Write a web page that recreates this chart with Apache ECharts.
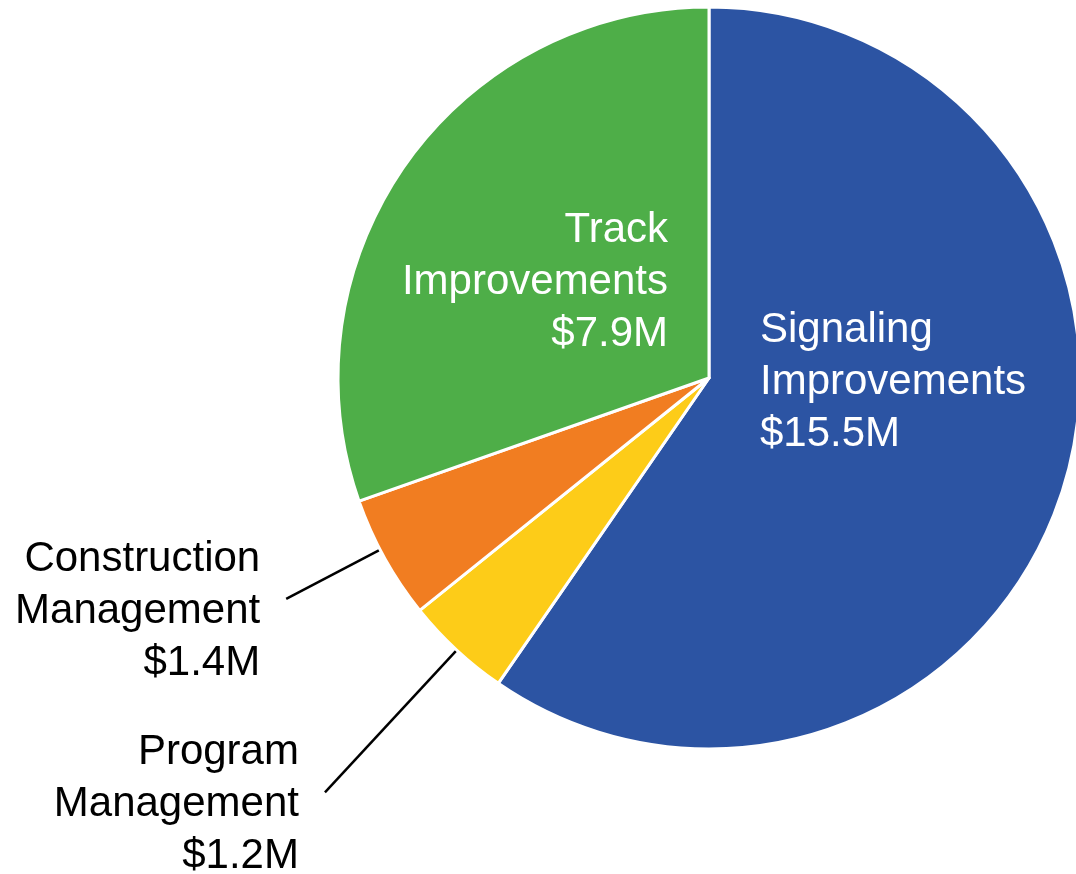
<!DOCTYPE html>
<html>
<head>
<meta charset="utf-8">
<script src="https://cdn.jsdelivr.net/npm/echarts@6/dist/echarts.min.js"></script>
<style>
html,body{margin:0;padding:0;background:#fff;}
#chart{width:1076px;height:874px;}
</style>
</head>
<body>
<div id="chart"></div>
<script>
const categories = ['Signaling\nImprovements', 'Program\nManagement', 'Construction\nManagement', 'Track\nImprovements'];
const values = [15.5, 1.2, 1.4, 7.9];
const colors = ['#2C54A3', '#FDCC18', '#F17D21', '#4EAE48'];
const insideLabel = [true, false, false, true];

const CX = 709, CY = 378, R = 371;
const chart = echarts.init(document.getElementById('chart'));

const data = categories.map((c, i) => ({
  name: c,
  value: values[i],
  itemStyle: { color: colors[i] },
  label: { color: insideLabel[i] ? '#ffffff' : '#000000', position: insideLabel[i] ? 'inside' : 'outside' },
  labelLine: { show: !insideLabel[i] }
}));

const total = values.reduce((a, b) => a + b, 0);
const angleTweak = { 1: -0.1, 2: 1.5 };
function midDir(idx) {
  let acc = 0;
  for (let k = 0; k < idx; k++) acc += values[k];
  const mid = (acc + values[idx] / 2) / total * 2 * Math.PI + (angleTweak[idx] || 0) * Math.PI / 180;
  return [Math.sin(mid), -Math.cos(mid)];
}
const lineOuter = { 1: 565, 2: 477 };

chart.setOption({
  animation: false,
  backgroundColor: '#ffffff',
  series: [{
    type: 'pie',
    center: [CX, CY],
    radius: [0, R],
    startAngle: 90,
    clockwise: true,
    avoidLabelOverlap: false,
    itemStyle: { borderColor: '#ffffff', borderWidth: 3 },
    label: {
      show: true,
      fontFamily: 'Liberation Sans, Arial, sans-serif',
      fontSize: 42,
      lineHeight: 52,
      formatter: p => p.name + '\n$' + p.value.toFixed(1) + 'M'
    },
    labelLine: { lineStyle: { color: '#000000', width: 2.5 }, smooth: false },
    labelLayout: function (p) {
      const i = p.dataIndex;
      if (i === 0) return { x: 760, y: 382, align: 'left', verticalAlign: 'middle' };
      if (i === 3) return { x: 668, y: 282, align: 'right', verticalAlign: 'middle' };
      const d = midDir(i);
      const sx = CX + d[0] * 366, sy = CY + d[1] * 366;
      const ex = CX + d[0] * lineOuter[i], ey = CY + d[1] * lineOuter[i];
      return {
        x: ex - 26, y: ey + 12.5, align: 'right', verticalAlign: 'middle',
        labelLinePoints: [[sx, sy], [ex, ey], [ex, ey]]
      };
    },
    data: data
  }]
});
</script>
</body>
</html>
